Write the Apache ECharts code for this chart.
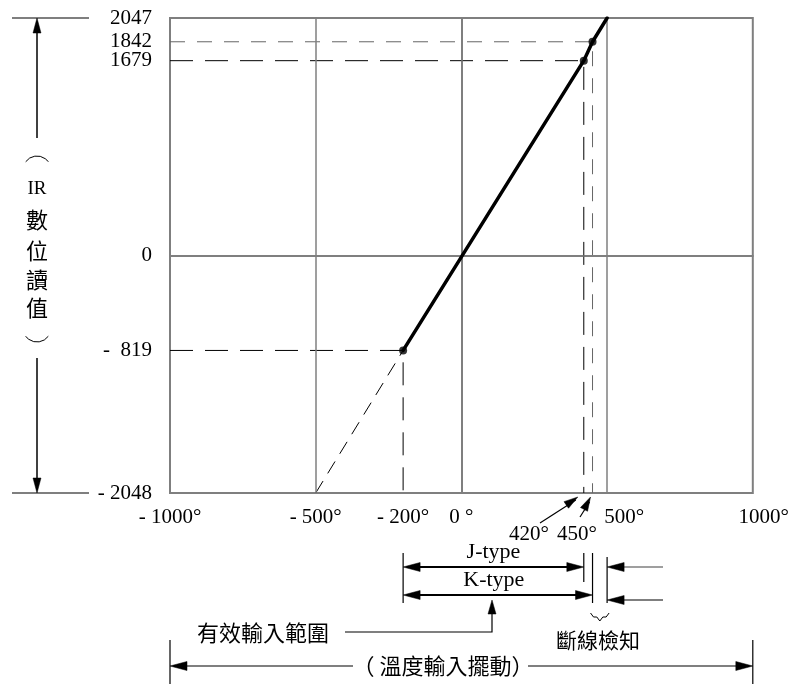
<!DOCTYPE html>
<html>
<head>
<meta charset="utf-8">
<script src="https://cdn.jsdelivr.net/npm/echarts@6/dist/echarts.min.js"></script>
<style>html,body{margin:0;padding:0;background:#fff}#c{width:792px;height:684px}</style>
</head>
<body>
<div id="c"></div>
<script>
// ---- data ----
const xTicks = [-1000, -500, -200, 0, 500, 1000];
const xTickLabels = ['- 1000°', '- 500°', '- 200°', '0 °', '500°', '1000°'];
const yTicks = [2047, 1842, 1679, 0, -819, -2048];
const yTickLabels = ['2047', '1842', '1679', '0', '-  819', '- 2048'];
const gridX = [-500, 0, 500];
const gridY = [0];
const extrapX = [-500, -200];
const extrapY = [-2048, -819];
const lineX = [-200, 420, 450, 500];
const lineY = [-819, 1679, 1842, 2047];
const pointX = [-200, 420, 450];
const pointY = [-819, 1679, 1842];
const pointLabels = ['- 200°', '420°', '450°'];

const SERIF = '"Liberation Serif","Times New Roman",serif';
const CJK = '"Noto Sans CJK TC","Noto Sans CJK SC",sans-serif';
const GRAY = '#7f7f7f';

const chart = echarts.init(document.getElementById('c'), null, {renderer: 'canvas'});

const xLabelMap = {}; xTicks.forEach((v, i) => xLabelMap[v] = xTickLabels[i]);
const yLabelMap = {}; yTicks.forEach((v, i) => yLabelMap[v] = yTickLabels[i]);

const guideSeries = pointX.map((x, i) => ({
  type: 'line',
  data: [[-1000, pointY[i]], [x, pointY[i]], [x, -2048]],
  symbol: 'none',
  silent: true,
  z: 3,
  lineStyle: {
    color: i === 2 ? '#666' : '#000',
    width: 1,
    type: i === 2 ? [15, 12] : [23, 12]
  }
}));

chart.setOption({
  animation: false,
  backgroundColor: '#fff',
  grid: {left: 170, right: 39, top: 18, bottom: 191, show: true, borderColor: GRAY, borderWidth: 2, backgroundColor: 'transparent'},
  xAxis: {
    type: 'value', min: -1000, max: 1000,
    axisLine: {show: true, lineStyle: {color: GRAY, width: 2}},
    axisTick: {show: false},
    splitLine: {show: false},
    axisLabel: {
      customValues: xTicks,
      margin: 14,
      color: '#000',
      fontFamily: SERIF,
      fontSize: 21,
      formatter: v => {
        const t = xLabelMap[v];
        if (v === 500) return '{a|' + t + '}';
        if (v === 1000) return '{b|' + t + '}';
        return t;
      },
      rich: {
        a: {fontFamily: SERIF, fontSize: 21, color: '#000', padding: [0, 0, 4, 34]},
        b: {fontFamily: SERIF, fontSize: 21, color: '#000', padding: [0, 0, 0, 22]}
      }
    }
  },
  yAxis: {
    type: 'value', min: -2048, max: 2047,
    axisLine: {show: true, lineStyle: {color: GRAY, width: 2}},
    axisTick: {show: false},
    splitLine: {show: false},
    axisLabel: {
      customValues: yTicks,
      margin: 18,
      color: '#000',
      fontFamily: SERIF,
      fontSize: 21,
      formatter: v => yLabelMap[v]
    }
  },
  series: [
    {
      type: 'line', data: [], silent: true,
      markLine: {
        silent: true, symbol: ['none', 'none'], label: {show: false},
        lineStyle: {color: GRAY, width: 1.5, type: 'solid'},
        data: gridX.map(v => ({xAxis: v})).concat(gridY.map(v => ({yAxis: v})))
      }
    },
    ...guideSeries,
    {
      type: 'line', data: extrapX.map((x, i) => [x, extrapY[i]]),
      symbol: 'none', silent: true, z: 4,
      lineStyle: {color: '#000', width: 1, type: [14, 9]}
    },
    {
      type: 'line', data: lineX.map((x, i) => [x, lineY[i]]),
      symbol: 'none', silent: true, z: 5,
      lineStyle: {color: '#000', width: 3.5, cap: 'round'}
    },
    {
      type: 'scatter', data: pointX.map((x, i) => [x, pointY[i]]),
      symbol: 'circle', symbolSize: 8, silent: true, z: 6,
      itemStyle: {color: '#000'}
    }
  ]
});

// ---- annotations (dimension lines, arrows, captions) ----
const P = (x, y) => chart.convertToPixel({gridIndex: 0}, [x, y]);
const px = x => P(x, 0)[0];
const py = y => P(0, y)[1];

function seg(pts, color, w) {
  return {type: 'polyline', silent: true, z: 10, shape: {points: pts}, style: {stroke: color || '#000', lineWidth: w || 1.2, fill: null}};
}
function head(tip, from, L, W) {
  L = L || 14; W = W || 4;
  const dx = tip[0] - from[0], dy = tip[1] - from[1];
  const n = Math.hypot(dx, dy); const ux = dx / n, uy = dy / n;
  const bx = tip[0] - ux * L, by = tip[1] - uy * L;
  return {type: 'polygon', silent: true, z: 11, shape: {points: [tip, [bx - uy * W, by + ux * W], [bx + uy * W, by - ux * W]]}, style: {fill: '#000', stroke: '#000', lineWidth: 0.5}};
}
function txt(s, x, y, font, size, align) {
  return {type: 'text', silent: true, z: 12, x: x, y: y, style: {text: s, fill: '#000', font: size + 'px ' + font, align: align || 'center', verticalAlign: 'middle'}};
}
function arc(cx, cy, r, a0, a1) {
  return {type: 'arc', silent: true, z: 12, shape: {cx: cx, cy: cy, r: r, startAngle: a0, endAngle: a1, clockwise: true}, style: {stroke: '#000', lineWidth: 1, fill: null}};
}

const xL = px(-1000), xR = px(1000);
const yTop = py(2047), yBot = py(-2048);
const xm200 = px(pointX[0]), x420 = px(pointX[1]), x450 = px(pointX[2]), x500 = px(500);
const g = [];

// left vertical dimension
const ax = 37;
g.push(seg([[12, yTop], [89, yTop]], '#000', 1.2));
g.push(seg([[12, yBot], [89, yBot]], '#000', 1.2));
g.push(seg([[ax, yTop + 6], [ax, 138]], '#000', 1.5));
g.push(head([ax, yTop], [ax, 138], 15, 4));
g.push(seg([[ax, 358], [ax, yBot - 6]], '#000', 1.5));
g.push(head([ax, yBot], [ax, 358], 15, 4));
// vertical bracket arcs ︵ ︶
g.push(arc(ax, 170, 14, Math.PI * 1.2, Math.PI * 1.8));
g.push(arc(ax, 328, 14, Math.PI * 0.2, Math.PI * 0.8));
const vChars = [['IR', 189], ['數', 220], ['位', 251], ['讀', 280], ['值', 308]];
vChars.forEach(([c, y]) => g.push(txt(c, ax, y, c === 'IR' ? SERIF : CJK, c === 'IR' ? 19 : 22)));

// 420° and 450° callouts
g.push(txt(pointLabels[1], 529, 534, SERIF, 21));
g.push(seg([[540, 523], [x420 - 8, 500]], '#000', 1.2));
g.push(head([x420 - 6, 497], [540, 523], 14, 4));
g.push(txt(pointLabels[2], 577, 534, SERIF, 21));
g.push(seg([[580, 517], [x450 - 3, 502]], '#000', 1.2));
g.push(head([x450 - 2, 497], [580, 517], 14, 4));

// extension lines under the chart
g.push(seg([[xm200, 553], [xm200, 603]]));
g.push(seg([[x420, 553], [x420, 582]]));
g.push(seg([[x450, 553], [x450, 603]]));
g.push(seg([[x500, 557], [x500, 603]]));

// J-type
const yJ = 567, yK = 595;
g.push(seg([[xm200 + 8, yJ], [x420 - 8, yJ]], '#000', 2));
g.push(head([xm200, yJ], [x420, yJ], 17, 4.5));
g.push(head([x420, yJ], [xm200, yJ], 17, 4.5));
g.push(txt('J-type', (xm200 + x420) / 2, 552, SERIF, 22));
// K-type
g.push(seg([[xm200 + 8, yK], [x450 - 8, yK]], '#000', 2));
g.push(head([xm200, yK], [x450, yK], 17, 4.5));
g.push(head([x450, yK], [xm200, yK], 17, 4.5));
g.push(txt('K-type', (xm200 + x450) / 2 - 4, 580, SERIF, 22));
// right-side arrows pointing to 500
g.push(seg([[x500 + 8, yJ], [663, yJ]], GRAY, 1.5));
g.push(head([x500, yJ], [663, yJ], 17, 4.5));
g.push(seg([[x500 + 8, 600], [663, 600]], '#000', 1.2));
g.push(head([x500, 600], [663, 600], 17, 4.5));
// brace + 斷線檢知
g.push({type: 'polyline', silent: true, z: 10, shape: {points: [[x450 - 2, 613], [x450 + 1, 617], [(x450 + x500) / 2 - 3, 617], [(x450 + x500) / 2, 621], [(x450 + x500) / 2 + 3, 617], [x500 - 1, 617], [x500 + 2, 613]]}, style: {stroke: '#000', lineWidth: 1, fill: null}});
g.push(txt('斷線檢知', 598, 640, CJK, 21));

// 有效輸入範圍 leader
g.push(txt('有效輸入範圍', 197, 633, CJK, 22, 'left'));
g.push(seg([[345, 632], [492, 632], [492, 612]], '#000', 1.2));
g.push(head([492, yK + 5], [492, 632], 14, 4));

// bottom overall range
const yB = 666;
g.push(seg([[xL, 640], [xL, 684]]));
g.push(seg([[xR, 640], [xR, 684]]));
g.push(seg([[xL + 8, yB], [353, yB]], '#000', 1.2));
g.push(seg([[528, yB], [xR - 8, yB]], '#000', 1.2));
g.push(head([xL, yB], [xR, yB], 17, 4.5));
g.push(head([xR, yB], [xL, yB], 17, 4.5));
g.push(txt('（ 溫度輸入擺動）', 443, yB, CJK, 22));

chart.setOption({graphic: g});
</script>
</body>
</html>
